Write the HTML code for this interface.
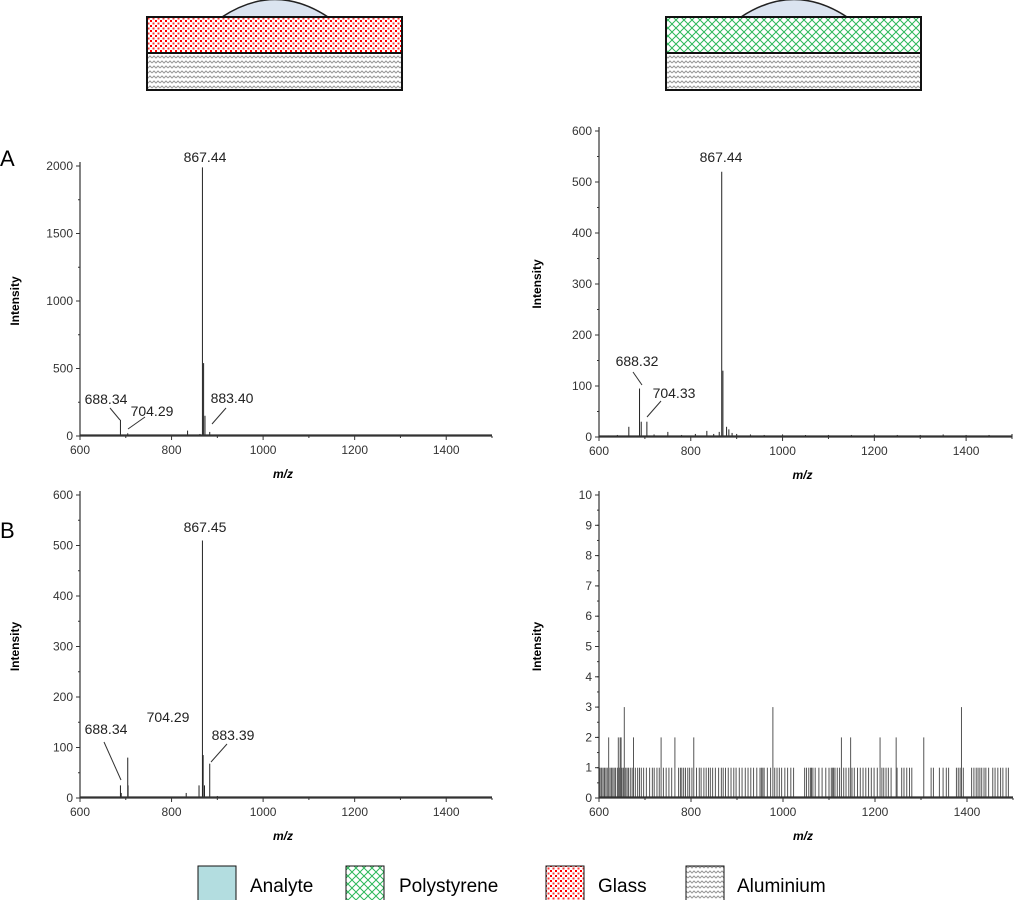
<!DOCTYPE html>
<html><head><meta charset="utf-8"><style>
html,body{margin:0;padding:0;background:#fff;width:1024px;height:900px;overflow:hidden}
svg{display:block;font-family:"Liberation Sans",Arial,sans-serif}
.tk{font-size:12px;fill:#333}
.pl{font-size:14px;fill:#222}
</style></head><body>
<svg id="fig" width="1024" height="900" viewBox="0 0 1024 900">
<defs>
<pattern id="glass" width="5" height="5" patternUnits="userSpaceOnUse"><rect width="5" height="5" fill="#fff"/><rect x="0" y="0" width="2" height="2" fill="#f00"/><rect x="2.5" y="2.5" width="2" height="2" fill="#f33"/></pattern>
<pattern id="poly" width="8" height="8" patternUnits="userSpaceOnUse"><rect width="8" height="8" fill="#fff"/><path d="M0,0L8,8M8,0L0,8" stroke="#2cb85a" stroke-width="1"/></pattern>
<pattern id="alu" width="8" height="5" patternUnits="userSpaceOnUse"><rect width="8" height="5" fill="#fff"/><path d="M0,3L2,1L4,3L6,1L8,3" stroke="#999" stroke-width="1" fill="none"/></pattern>
</defs>
<g>
<path d="M222,17 Q275,-18 328,17Z" fill="#dbe4f0" stroke="#222" stroke-width="1.5"/>
<rect x="147" y="17" width="255" height="36" fill="url(#glass)" stroke="#111" stroke-width="2"/>
<rect x="147" y="53" width="255" height="37" fill="url(#alu)" stroke="#111" stroke-width="2"/>
</g>
<g>
<path d="M741,17 Q794,-18 847,17Z" fill="#dbe4f0" stroke="#222" stroke-width="1.5"/>
<rect x="666" y="17" width="255" height="36" fill="url(#poly)" stroke="#111" stroke-width="2"/>
<rect x="666" y="53" width="255" height="37" fill="url(#alu)" stroke="#111" stroke-width="2"/>
</g>
<text x="0" y="166" font-size="22" fill="#000">A</text>
<text x="0" y="538" font-size="22" fill="#000">B</text>
<g id="charts"></g>
<g>
<rect x="198" y="866" width="38" height="36" fill="#b3dde0" stroke="#111"/>
<text x="250" y="892" font-size="19">Analyte</text>
<rect x="346" y="866" width="38" height="36" fill="url(#poly)" stroke="#111"/>
<text x="399" y="892" font-size="19">Polystyrene</text>
<rect x="546" y="866" width="38" height="36" fill="url(#glass)" stroke="#111"/>
<text x="598" y="892" font-size="19">Glass</text>
<rect x="686" y="866" width="38" height="36" fill="url(#alu)" stroke="#111"/>
<text x="737" y="892" font-size="19">Aluminium</text>
</g>
</svg>
<script>
const xTicks=[600,800,1000,1200,1400];
// Panel A glass
const aGlassMz=[660,675,688.34,704.29,720,760,800,835,862,867.44,870,873,883.4,900,950,1000];
const aGlassI=[5,8,120,20,6,5,6,40,15,1990,540,150,30,10,4,3];
const aGlassTicks=[0,500,1000,1500,2000];
// Panel A polystyrene
const aPolyMz=[620,640,665,688.32,692,704.33,720,750,780,810,835,850,862,867.44,870,878,883,890,900,930,960,1000,1050,1100,1150,1200,1250,1300,1350,1400,1450,1500];
const aPolyI=[3,4,20,95,30,30,5,10,4,6,12,6,10,520,130,20,15,8,6,5,4,5,4,4,4,5,4,4,5,4,4,6];
const aPolyTicks=[0,100,200,300,400,500,600];
// Panel B glass
const bGlassMz=[620,650,688.34,690,704.29,705,750,800,832,860,867.45,869,872,883.39,900,950,1000];
const bGlassI=[3,3,25,10,80,25,3,3,10,25,510,85,25,68,4,3,2];
const bGlassTicks=[0,100,200,300,400,500,600];
// Panel B polystyrene noise
const bPolyMz=[601,604,606,609,612,615,618,621,624,627,630,633,636,640,642,644,646,648,650,653,655,658,661,664,668,672,675,679,684,688,692,697,703,710,716,720,726,731,735,740,746,752,758,765,773,777,780,784,788,793,797,802,806,812,818,822,828,833,838,842,847,853,860,866,870,875,881,887,893,898,905,911,918,924,930,936,943,950,953,956,959,966,973,978,982,987,992,997,1004,1010,1017,1023,1047,1051,1056,1060,1062,1065,1070,1078,1085,1093,1100,1105,1108,1110,1113,1118,1123,1127,1132,1137,1143,1147,1150,1155,1162,1168,1174,1180,1186,1192,1198,1205,1211,1215,1219,1224,1229,1235,1246,1248,1258,1263,1269,1275,1280,1306,1322,1327,1340,1348,1355,1360,1377,1381,1385,1388,1392,1410,1415,1420,1424,1428,1432,1437,1441,1447,1456,1461,1467,1473,1478,1485,1490];
const bPolyI=[1,1,1,1,1,1,1,2,1,1,1,1,1,1,2,1,2,2,1,1,3,1,1,1,1,1,2,1,1,1,1,1,1,1,1,1,1,1,2,1,1,1,1,2,1,1,1,1,1,1,1,1,2,1,1,1,1,1,1,1,1,1,1,1,1,1,1,1,1,1,1,1,1,1,1,1,1,1,1,1,1,1,1,3,1,1,1,1,1,1,1,1,1,1,1,1,1,1,1,1,1,1,1,1,1,1,1,1,1,2,1,1,1,2,1,1,1,1,1,1,1,1,1,1,2,1,1,1,1,1,2,1,1,1,1,1,1,2,1,1,1,1,1,1,1,1,1,3,1,1,1,1,1,1,1,1,1,1,1,1,1,1,1,1,1];
const bPolyTicks=[0,1,2,3,4,5,6,7,8,9,10];

const NS="http://www.w3.org/2000/svg";
const root=document.getElementById('charts');
function el(tag,attrs,parent){const e=document.createElementNS(NS,tag);for(const k in attrs)e.setAttribute(k,attrs[k]);(parent||root).appendChild(e);return e;}

function chart(name,x0,x1,y0,yTop,yMax,yTicks,minorStep,mz,inten,labels,gray){
  const g=el('g',{});
  
  
  const xs=v=>x0+(v-600)/900*(x1-x0);
  const ys=v=>y0-(v/yMax)*(y0-yTop);
  for(let i=0;i<mz.length;i++){
    const l=el('line',{x1:xs(mz[i]),x2:xs(mz[i]),y1:y0,y2:ys(inten[i]),stroke:gray?'#555':'#222','stroke-width':1},g);
    
    
  }
  const b=el('line',{x1:x0,x2:x1,y1:y0-1,y2:y0-1,stroke:'#333','stroke-width':1.2},g);
  
  
  const ax=el('path',{d:`M${x0},${yTop-4}V${y0}H${x1}`,fill:'none',stroke:'#333','stroke-width':1.2},g);
  
  
  for(const t of yTicks){
    el('line',{x1:x0-4,x2:x0,y1:ys(t),y2:ys(t),stroke:'#333'},g);
    const tx=el('text',{x:x0-7,y:ys(t)+4,'text-anchor':'end',class:'tk'},g);
    tx.textContent=t;
    
    
  }
  for(let v=minorStep;v<yMax;v+=minorStep){el('line',{x1:x0-2,x2:x0,y1:ys(v),y2:ys(v),stroke:'#333'},g);}
  for(let v=600;v<=1500;v+=100){el('line',{x1:xs(v),x2:xs(v),y1:y0,y2:y0+(v%200==0?4:2),stroke:'#333'},g);}
  for(const t of xTicks){
    const tx=el('text',{x:xs(t),y:y0+18,'text-anchor':'middle',class:'tk'},g);
    tx.textContent=t;
    
    
  }
  const xt=el('text',{x:(x0+x1)/2-3,y:y0+42,'text-anchor':'middle','font-size':12,'font-weight':'bold','font-style':'italic'},g);
  xt.textContent='m/z';
  
  
  const yc=(y0+yTop)/2;
  const yx=x0<200?19:x0-58;
  const yt=el('text',{x:yx,y:yc,'text-anchor':'middle','font-size':12,'font-weight':'bold',transform:`rotate(-90 ${yx} ${yc})`},g);
  yt.textContent='Intensity';
  
  
  for(const lb of labels){
    const t=el('text',{x:lb[1],y:lb[2],'text-anchor':'middle',class:'pl'},g);
    t.textContent=lb[0];
    
    
    if(lb[3]){const l=el('line',{x1:lb[3],y1:lb[4],x2:lb[5],y2:lb[6],stroke:'#333'},g);
      
      }
  }
}
chart('chart-a-glass',80,492,436,166,2000,aGlassTicks,250,aGlassMz,aGlassI,
 [['867.44',205,162],['688.34',106,404,110,408,120,420],['704.29',152,416,145,417,128,429],['883.40',232,403,226,408,212,424]]);
chart('chart-a-polystyrene',599,1012,437,131,600,aPolyTicks,50,aPolyMz,aPolyI,
 [['867.44',721,162],['688.32',637,366,633,372,642,385],['704.33',674,398,661,401,647,417]]);
chart('chart-b-glass',80,492,798,495,600,bGlassTicks,50,bGlassMz,bGlassI,
 [['867.45',205,532],['704.29',168,722],['688.34',106,734,104,742,121,780],['883.39',233,740,227,744,211,762]]);
chart('chart-b-polystyrene',599,1013,798,495,10,bPolyTicks,0.5,bPolyMz,bPolyI,[],true);
</script>
</body></html>
